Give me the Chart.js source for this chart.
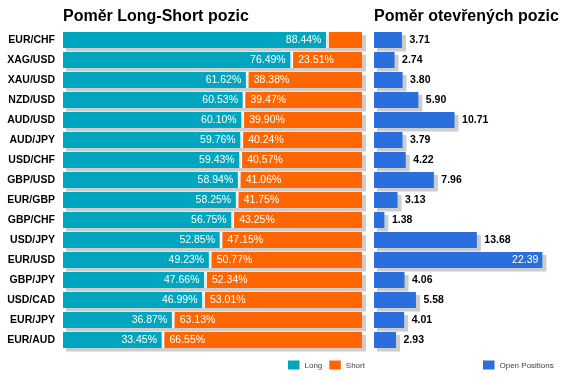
<!DOCTYPE html>
<html><head><meta charset="utf-8">
<script src="https://cdn.jsdelivr.net/npm/chart.js@4"></script>
<style>
html,body{margin:0;padding:0;background:#fff;width:571px;height:381px;overflow:hidden}
#l{position:absolute;left:0;top:0;width:368px;height:381px}
#r{position:absolute;left:366px;top:0;width:205px;height:381px}
</style></head><body>
<div id="l"><canvas id="c1"></canvas></div>
<div id="r"><canvas id="c2"></canvas></div>
<script>
const pairs = ['EUR/CHF','XAG/USD','XAU/USD','NZD/USD','AUD/USD','AUD/JPY','USD/CHF','GBP/USD','EUR/GBP','GBP/CHF','USD/JPY','EUR/USD','GBP/JPY','USD/CAD','EUR/JPY','EUR/AUD'];
const longPct = [88.44,76.49,61.62,60.53,60.10,59.76,59.43,58.94,58.25,56.75,52.85,49.23,47.66,46.99,36.87,33.45];
const shortPct = [11.56,23.51,38.38,39.47,39.90,40.24,40.57,41.06,41.75,43.25,47.15,50.77,52.34,53.01,63.13,66.55];
const openPos = [3.71,2.74,3.80,5.90,10.71,3.79,4.22,7.96,3.13,1.38,13.68,22.39,4.06,5.58,4.01,2.93];
const pctMax = 100;
const openMax = 25;

const FONT = "'Liberation Sans', Arial, sans-serif";
const TEAL = '#00A5BF', ORANGE = '#FF6600', BLUE = '#2A6FDB', SHADOW = '#CDCDCD';

const shadowPlugin = {
  id: 'rowShadow',
  beforeDatasetsDraw(chart) {
    const ctx = chart.ctx;
    const metas = chart.getSortedVisibleDatasetMetas();
    const n = chart.data.labels.length;
    ctx.save();
    ctx.fillStyle = SHADOW;
    for (let i = 0; i < n; i++) {
      let minX = Infinity, maxX = -Infinity, top = 0, h = 0;
      metas.forEach(m => {
        const el = m.data[i]; if (!el) return;
        const p = el.getProps(['x','y','base','height'], true);
        minX = Math.min(minX, p.x, p.base); maxX = Math.max(maxX, p.x, p.base);
        top = p.y - p.height / 2; h = p.height;
      });
      ctx.fillRect(minX + 3, top + 3, maxX - minX + 1, h + 0.5);
    }
    ctx.restore();
  }
};

const labelPlugin = {
  id: 'barLabels',
  afterDatasetsDraw(chart, args, opts) {
    const ctx = chart.ctx;
    ctx.save();
    ctx.textBaseline = 'middle';
    chart.getSortedVisibleDatasetMetas().forEach((m) => {
      const ds = chart.data.datasets[m.index];
      m.data.forEach((el, i) => {
        const p = el.getProps(['x','y','base'], true);
        const v = ds.data[i];
        if (opts.mode === 'pct') {
          const txt = v.toFixed(2) + '%';
          ctx.font = '10.5px ' + FONT;
          const tw = ctx.measureText(txt).width;
          if (tw + 12 > Math.abs(p.x - p.base)) return;
          ctx.fillStyle = '#fff';
          if (m.index === 0) { ctx.textAlign = 'right'; ctx.fillText(txt, p.x - 6, p.y + 0.5); }
          else { ctx.textAlign = 'left'; ctx.fillText(txt, p.base + 6.5, p.y + 0.5); }
        } else {
          const txt = v.toFixed(2);
          ctx.font = 'bold 10.5px ' + FONT;
          const tw = ctx.measureText(txt).width;
          if (p.x + 7.5 + tw > chart.width - 2) {
            ctx.font = '10.5px ' + FONT;
            ctx.fillStyle = '#fff'; ctx.textAlign = 'right';
            ctx.fillText(txt, p.x - 4, p.y + 0.5);
          } else {
            ctx.fillStyle = '#000'; ctx.textAlign = 'left';
            ctx.fillText(txt, p.x + 7.5, p.y + 0.5);
          }
        }
      });
    });
    ctx.restore();
  }
};

const legendPlugin = {
  id: 'fixedLegend',
  afterDraw(chart, args, opts) {
    const ctx = chart.ctx;
    ctx.save();
    let x = opts.x;
    const y = opts.y;
    ctx.font = '8px ' + FONT;
    ctx.textBaseline = 'middle'; ctx.textAlign = 'left';
    chart.data.datasets.forEach(ds => {
      ctx.fillStyle = ds.backgroundColor;
      ctx.fillRect(x, y - 4.5, 11.5, 9);
      ctx.fillStyle = '#444';
      ctx.fillText(ds.label, x + 16.5, y + 0.5);
      x += 16.5 + ctx.measureText(ds.label).width + 7;
    });
    ctx.restore();
  }
};

const titleOpts = (text) => ({
  display: true, text, align: 'start', fullSize: false, color: '#000',
  font: { family: FONT, size: 16, weight: 'bold', lineHeight: 1 },
  padding: { top: 9, bottom: 5 }
});

new Chart(document.getElementById('c1'), {
  type: 'bar',
  data: {
    labels: pairs,
    datasets: [
      { label: 'Long', data: longPct, backgroundColor: TEAL, borderColor: '#fff',
        borderWidth: { left: 0, right: 1.4, top: 0, bottom: 0 }, borderSkipped: false },
      { label: 'Short', data: shortPct, backgroundColor: ORANGE, borderColor: '#fff',
        borderWidth: { left: 1.4, right: 0, top: 0, bottom: 0 }, borderSkipped: false }
    ]
  },
  options: {
    indexAxis: 'y', responsive: true, maintainAspectRatio: false, animation: false,
    datasets: { bar: { categoryPercentage: 0.8, barPercentage: 1, inflateAmount: 0 } },
    layout: { padding: { top: 0, bottom: 31, left: 0, right: 6 } },
    scales: {
      x: { stacked: true, min: 0, max: pctMax, display: false },
      y: { stacked: true, grid: { display: false, drawTicks: false }, border: { display: false },
           ticks: { padding: 8, color: '#000', font: { family: FONT, size: 10.5, weight: 'bold' } },
           afterFit(s) { s.width = 63; } }
    },
    plugins: {
      legend: { display: false }, tooltip: { enabled: false },
      title: titleOpts('Poměr Long-Short pozic'),
      barLabels: { mode: 'pct' },
      fixedLegend: { x: 288, y: 365 }
    }
  },
  plugins: [shadowPlugin, labelPlugin, legendPlugin]
});

new Chart(document.getElementById('c2'), {
  type: 'bar',
  data: {
    labels: pairs,
    datasets: [
      { label: 'Open Positions', data: openPos, backgroundColor: BLUE, borderWidth: 0 }
    ]
  },
  options: {
    indexAxis: 'y', responsive: true, maintainAspectRatio: false, animation: false,
    datasets: { bar: { categoryPercentage: 0.8, barPercentage: 1, inflateAmount: 0 } },
    layout: { padding: { top: 0, bottom: 31, left: 8, right: 9 } },
    scales: {
      x: { min: 0, max: openMax, display: false },
      y: { display: false }
    },
    plugins: {
      legend: { display: false }, tooltip: { enabled: false },
      title: titleOpts('Poměr otevřených pozic'),
      barLabels: { mode: 'open' },
      fixedLegend: { x: 117, y: 365 }
    }
  },
  plugins: [shadowPlugin, labelPlugin, legendPlugin]
});
</script>
</body></html>
